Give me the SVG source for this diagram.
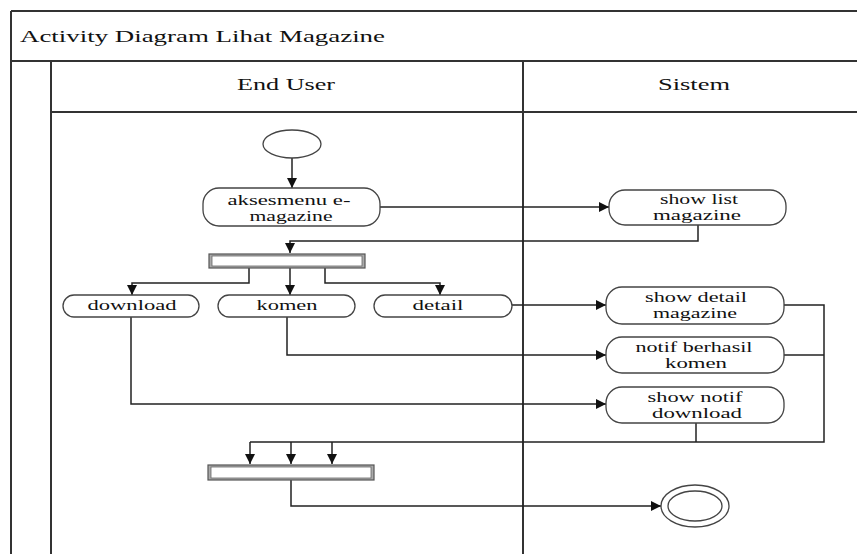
<svg xmlns="http://www.w3.org/2000/svg" width="857" height="554" viewBox="0 0 857 554">
  <defs>
    <marker id="arrow" viewBox="0 0 10 10" refX="10" refY="5" markerWidth="10" markerHeight="10" markerUnits="userSpaceOnUse" orient="auto">
      <path d="M0,0 L10,5 L0,10 z" fill="#111"/>
    </marker>
    <style>
      .frame { fill: none; stroke: #333; stroke-width: 2; }
      .act { fill: #fff; stroke: #444; stroke-width: 1.3; }
      .bar { fill: #aaa; stroke: #555; stroke-width: 1.2; }
      .barIn { fill: #fff; stroke: #666; stroke-width: 0.8; }
      .conn { fill: none; stroke: #222; stroke-width: 1.5; }
      .arr { marker-end: url(#arrow); }
      .lbl { font-family: "Liberation Serif", "DejaVu Serif", serif; font-size: 14px; fill: #111; text-anchor: middle; }
      .hdr { font-family: "Liberation Serif", "DejaVu Serif", serif; font-size: 16px; fill: #111; text-anchor: middle; }
      .title { font-family: "Liberation Serif", "DejaVu Serif", serif; font-size: 17px; fill: #111; }
    </style>
  </defs>
  <rect width="857" height="554" fill="#fff"/>

  <!-- swimlane frame -->
  <g id="frame">
    <line class="frame" x1="11" y1="11" x2="857" y2="11"/>
    <line class="frame" x1="11" y1="11" x2="11" y2="554" stroke="#777"/>
    <line class="frame" x1="11" y1="61" x2="857" y2="61"/>
    <line class="frame" x1="51" y1="61" x2="51" y2="554"/>
    <line class="frame" x1="51" y1="112" x2="857" y2="112"/>
    <line class="frame" x1="523" y1="61" x2="523" y2="554"/>
    <text class="title" x="20" y="42" textLength="365" lengthAdjust="spacingAndGlyphs">Activity Diagram Lihat Magazine</text>
    <text class="hdr" x="286" y="90" textLength="98" lengthAdjust="spacingAndGlyphs">End User</text>
    <text class="hdr" x="694" y="90" textLength="72" lengthAdjust="spacingAndGlyphs">Sistem</text>
  </g>

  <!-- connectors -->
  <g id="connectors">
    <line class="conn arr" x1="292" y1="158" x2="292" y2="188"/>
    <line class="conn arr" x1="380" y1="207" x2="609" y2="207"/>
    <polyline class="conn arr" points="698,225 698,241 290,241 290,253"/>
    <polyline class="conn arr" points="249,268 249,283 132,283 132,295"/>
    <line class="conn arr" x1="290" y1="268" x2="290" y2="295"/>
    <polyline class="conn arr" points="325,268 325,283 440,283 440,295"/>
    <line class="conn arr" x1="512" y1="305" x2="606" y2="305"/>
    <polyline class="conn arr" points="287,317 287,355 606,355"/>
    <polyline class="conn arr" points="131,317 131,404 606,404"/>
    <polyline class="conn" points="784,305 824,305 824,442 250,442"/>
    <line class="conn" x1="784" y1="355" x2="824" y2="355"/>
    <line class="conn" x1="696" y1="423" x2="696" y2="442"/>
    <line class="conn arr" x1="250" y1="442" x2="250" y2="464"/>
    <line class="conn arr" x1="291" y1="442" x2="291" y2="464"/>
    <line class="conn arr" x1="332" y1="442" x2="332" y2="464"/>
    <polyline class="conn arr" points="291,480 291,506 661,506"/>
  </g>

  <!-- nodes -->
  <g id="start">
    <ellipse class="act" cx="292" cy="144" rx="29" ry="14"/>
  </g>
  <g id="akses-menu">
    <rect class="act" x="203" y="188" width="177" height="38" rx="16"/>
    <text class="lbl" x="289" y="205" textLength="123" lengthAdjust="spacingAndGlyphs">aksesmenu e-</text>
    <text class="lbl" x="291" y="221" textLength="83" lengthAdjust="spacingAndGlyphs">magazine</text>
  </g>
  <g id="show-list">
    <rect class="act" x="609" y="190" width="177" height="35" rx="16"/>
    <text class="lbl" x="699" y="204" textLength="78" lengthAdjust="spacingAndGlyphs">show list</text>
    <text class="lbl" x="697" y="220" textLength="88" lengthAdjust="spacingAndGlyphs">magazine</text>
  </g>
  <g id="fork">
    <rect class="bar" x="209" y="254" width="156" height="14"/>
    <rect class="barIn" x="212" y="256" width="150" height="10"/>
  </g>
  <g id="download">
    <rect class="act" x="63" y="295" width="136" height="22" rx="11"/>
    <text class="lbl" x="132" y="310" textLength="89" lengthAdjust="spacingAndGlyphs">download</text>
  </g>
  <g id="komen">
    <rect class="act" x="218" y="295" width="137" height="22" rx="11"/>
    <text class="lbl" x="287" y="310" textLength="61" lengthAdjust="spacingAndGlyphs">komen</text>
  </g>
  <g id="detail">
    <rect class="act" x="374" y="295" width="138" height="22" rx="11"/>
    <text class="lbl" x="438" y="310" textLength="51" lengthAdjust="spacingAndGlyphs">detail</text>
  </g>
  <g id="show-detail">
    <rect class="act" x="606" y="287" width="178" height="37" rx="16"/>
    <text class="lbl" x="696" y="302" textLength="102" lengthAdjust="spacingAndGlyphs">show detail</text>
    <text class="lbl" x="695" y="318" textLength="84" lengthAdjust="spacingAndGlyphs">magazine</text>
  </g>
  <g id="notif-komen">
    <rect class="act" x="606" y="337" width="178" height="36" rx="16"/>
    <text class="lbl" x="694" y="352" textLength="117" lengthAdjust="spacingAndGlyphs">notif berhasil</text>
    <text class="lbl" x="696" y="368" textLength="62" lengthAdjust="spacingAndGlyphs">komen</text>
  </g>
  <g id="notif-download">
    <rect class="act" x="606" y="387" width="178" height="36" rx="16"/>
    <text class="lbl" x="695" y="402" textLength="95" lengthAdjust="spacingAndGlyphs">show notif</text>
    <text class="lbl" x="697" y="418" textLength="90" lengthAdjust="spacingAndGlyphs">download</text>
  </g>
  <g id="join">
    <rect class="bar" x="208" y="465" width="166" height="15"/>
    <rect class="barIn" x="211" y="467" width="160" height="11"/>
  </g>
  <g id="end">
    <ellipse class="act" cx="695" cy="506" rx="34" ry="21"/>
    <ellipse class="act" cx="695" cy="506" rx="27" ry="15"/>
  </g>
</svg>
